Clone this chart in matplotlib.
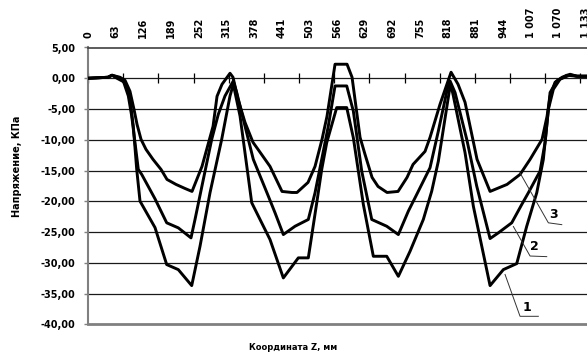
import matplotlib
matplotlib.use("Agg")
import matplotlib.pyplot as plt

# ---- data (Z in mm, stress in kPa) ----
z1 = [0, 45.5, 54.6, 65.9, 84.2, 95.5, 103.0, 110.8, 118.3, 152.4, 179.0, 205.4, 235.9,
      254.8, 277.5, 304.1, 323.0, 330.5, 345.8, 372.4, 391.3, 414.0, 444.3, 478.4, 501.1,
      520.3, 531.6, 543.0, 565.7, 588.5, 603.5, 626.3, 649.0, 679.5, 705.9, 732.5, 762.7,
      781.8, 796.9, 824.6, 831.0, 857.6, 876.5, 914.5, 944.7, 975.2, 997.9, 1020.7, 1035.7,
      1043.4, 1051.0, 1066.2, 1088.9, 1112.4, 1135]
p1 = [0, 0.16, 0.49, 0.0, -0.70, -3.42, -7.77, -14.82, -19.98, -24.27, -30.29, -31.11, -33.71,
      -27.31, -18.62, -9.93, -2.88, -0.98, -6.14, -20.24, -22.96, -26.22, -32.46, -29.20, -29.20,
      -20.24, -14.82, -10.47, -4.77, -4.77, -9.66, -20.52, -28.94, -28.94, -32.20, -28.13, -22.96,
      -18.36, -13.47, -0.81, -2.88, -12.10, -20.80, -33.71, -31.11, -30.13, -24.06, -18.62, -13.19,
      -7.77, -2.33, -0.44, 0.49, 0.33, 0.33]

z2 = [0, 45.5, 54.6, 68.2, 80.3, 91.7, 99.4, 106.9, 114.4, 122.2, 152.4, 179.0, 205.4, 234.3,
      243.4, 262.3, 281.4, 296.4, 311.6, 330.5, 338.3, 353.3, 376.0, 410.2, 425.4, 444.3,
      470.9, 501.1, 516.4, 531.6, 546.6, 561.9, 588.5, 603.5, 622.6, 645.4, 679.5, 705.9,
      728.6, 747.7, 778.0, 796.9, 819.6, 823.5, 834.9, 861.5, 884.2, 914.5, 933.4, 963.8,
      986.6, 1001.6, 1028.2, 1039.6, 1047.1, 1058.5, 1073.7, 1096.4, 1112.4, 1135]
p2 = [0, 0.16, 0.49, 0.16, -0.44, -2.88, -6.14, -10.47, -14.82, -15.64, -19.6, -23.50, -24.32, -25.95,
      -22.96, -16.45, -9.93, -5.86, -2.88, -0.44, -2.33, -6.68, -13.19, -19.17, -21.87, -25.41,
      -24.06, -22.96, -18.62, -13.19, -7.77, -1.25, -1.25, -5.33, -15.10, -22.96, -24.06, -25.41,
      -21.61, -18.89, -14.54, -8.58, -0.98, -0.44, -2.33, -9.93, -17.54, -26.06, -25.13, -23.50,
      -20.52, -18.62, -15.10, -10.47, -5.05, -1.79, -0.16, 0.54, 0.33, 0.33]

z3 = [0, 45.5, 54.6, 72.8, 84.2, 95.5, 104.6, 111.5, 120.6, 131.9, 147.9, 166.1, 179.7, 200.2,
      220.7, 236.6, 259.3, 284.4, 293.5, 304.8, 323.0, 329.8, 341.2, 357.1, 375.3, 386.7,
      414.0, 441.3, 464.1, 475.4, 500.4, 516.4, 532.3, 543.6, 561.9, 589.2, 600.6, 618.8,
      630.1, 646.1, 659.7, 680.2, 705.2, 725.7, 739.3, 766.6, 778.0, 800.7, 825.8, 841.7,
      857.6, 884.9, 914.5, 953.1, 982.7, 1005.5, 1032.8, 1044.1, 1051.0, 1062.3, 1078.3,
      1096.4, 1112.4, 1135]
p3 = [0, 0.16, 0.49, 0.16, -0.33, -2.12, -5.05, -7.49, -9.93, -11.56, -13.19, -14.82, -16.45, -17.26,
      -17.92, -18.40, -14.33, -7.82, -2.93, -0.98, 0.81, 0.16, -3.42, -7.17, -10.42, -11.56,
      -14.33, -18.40, -18.57, -18.57, -16.94, -14.33, -9.93, -6.19, 2.28, 2.28, 0.16, -9.61,
      -12.38, -16.12, -17.59, -18.57, -18.40, -16.12, -14.01, -11.89, -9.61, -4.23, 0.98, -0.98,
      -3.91, -13.19, -18.40, -17.26, -15.64, -13.19, -9.93, -6.19, -2.93, -0.65, 0.16,
      0.65, 0.33, 0.33]

top_ticks = [0, 63, 126, 189, 252, 315, 378, 441, 503, 566, 629, 692, 755, 818, 881, 944, 1007, 1070, 1133]
top_labels = ["0", "63", "126", "189", "252", "315", "378", "441", "503", "566", "629", "692",
              "755", "818", "881", "944", "1 007", "1 070", "1 133"]
y_ticks = [5, 0, -5, -10, -15, -20, -25, -30, -35, -40]
y_labels = ["5,00", "0,00", "-5,00", "-10,00", "-15,00", "-20,00", "-25,00", "-30,00", "-35,00", "-40,00"]
zero_ticks = [80 * i for i in range(15)]

# curve labels: (name, leader start, elbow, end, text position)
callouts = [
    ("3", (982.7, -15.4), (1047.1, -23.5), (1077.6, -23.8), (1058.5, -22.1)),
    ("2", (967.5, -24.1), (1005.5, -28.9), (1043.4, -29.0), (1014.6, -27.4)),
    ("1", (948.6, -31.9), (982.7, -38.7), (1024.3, -38.7), (997.9, -37.2)),
]

fig = plt.figure(figsize=(5.87, 3.56), dpi=100)
ax = fig.add_axes([88 / 587, 1 - 324.3 / 356, 1 - 88 / 587, (324.3 - 47.5) / 356])
ax.set_xlim(0, 1135)
ax.set_ylim(-40, 5)

for y in y_ticks:
    if y in (5, -40):
        continue
    ax.axhline(y, color="#1a1a1a", lw=0.9, zorder=1)

for z, p in ((z1, p1), (z2, p2), (z3, p3)):
    ax.plot(z, p, color="black", lw=2.1, solid_joinstyle="round", zorder=3)

# zero-line tick marks
sec = ax.secondary_xaxis(40 / 45)
sec.set_xticks(zero_ticks)
sec.tick_params(axis="x", direction="inout", length=7, width=0.9, color="black", labelbottom=False,
                labeltop=False)
sec.spines["bottom"].set_visible(False)
sec.spines["top"].set_visible(False)

ax.xaxis.tick_top()
ax.set_xticks(top_ticks)
ax.set_xticklabels(top_labels, rotation=90, fontsize=7, fontweight="bold", va="bottom")
ax.tick_params(axis="x", length=0, pad=7)

ax.set_yticks(y_ticks)
ax.set_yticklabels(y_labels, fontsize=7, fontweight="bold")
ax.tick_params(axis="y", length=3, width=1, color="#808080", pad=6)

ax.spines["right"].set_visible(False)
ax.spines["top"].set_color("#404040")
ax.spines["top"].set_linewidth(1.2)
ax.spines["left"].set_color("#808080")
ax.spines["left"].set_linewidth(1.5)
ax.spines["bottom"].set_color("#808080")
ax.spines["bottom"].set_linewidth(2)

for name, a, b, c, t in callouts:
    ax.plot([a[0], b[0], c[0]], [a[1], b[1], c[1]], color="#333333", lw=0.7, zorder=4)
    ax.text(t[0], t[1], name, fontsize=9, fontweight="bold", ha="center", va="center", zorder=5)

fig.text(17 / 587, 1 - 166 / 356, "Напряжение, КПа", rotation=90, fontsize=7, fontweight="bold",
         ha="center", va="center")
fig.text(293 / 587, 1 - 347 / 356, "Координата Z, мм", fontsize=6, fontweight="bold",
         ha="center", va="center")

fig.savefig("out.png", dpi=100)
